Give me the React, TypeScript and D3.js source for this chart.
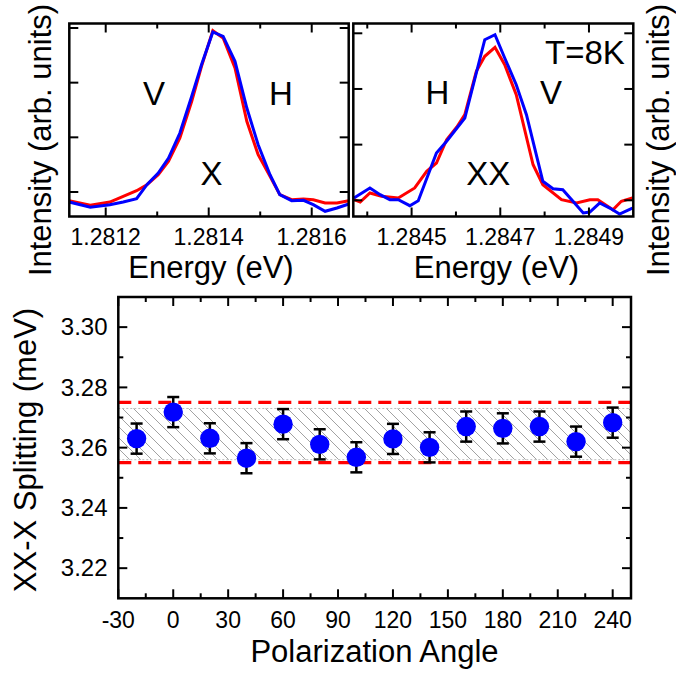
import React from 'react';
import * as d3 from 'd3';

// ---------- DATA ----------
// Top-left panel: X (exciton) spectra, red = V, blue = H
const leftEnergy = [1.281129, 1.28117, 1.281208, 1.281234, 1.28126, 1.28128, 1.281302, 1.281322, 1.281344, 1.281367, 1.281386, 1.281408, 1.281428, 1.281451, 1.281474, 1.281496, 1.281519, 1.281538, 1.281561, 1.281584, 1.281603, 1.281626, 1.281649, 1.281672];
const leftRed = [-0.159, -0.243, -0.183, -0.079, 0.024, 0.134, 0.316, 0.562, 0.988, 1.659, 2.299, 2.95, 2.817, 2.268, 1.293, 0.682, 0.287, -0.049, -0.141, -0.128, -0.141, -0.201, -0.201, -0.159];
const leftBlue = [-0.183, -0.28, -0.232, -0.183, -0.123, 0.134, 0.348, 0.622, 1.079, 1.75, 2.328, 2.927, 2.848, 2.391, 1.536, 0.865, 0.316, -0.049, -0.159, -0.152, -0.232, -0.353, -0.293, -0.219];

// Top-right panel: XX (biexciton) spectra
const rightRedEnergy = [1.28437, 1.284384, 1.284406, 1.284432, 1.28447, 1.284507, 1.284534, 1.284556, 1.284579, 1.284602, 1.28462, 1.284646, 1.284665, 1.284688, 1.28471, 1.284736, 1.284774, 1.284796, 1.284838, 1.284872, 1.284902, 1.28492, 1.284954, 1.284973, 1.284998];
const rightRed = [0.011, -0.031, 0.131, 0.072, 0.041, 0.221, 0.521, 0.67, 1.089, 1.317, 1.538, 2.317, 2.587, 2.748, 2.436, 1.897, 0.639, 0.28, 0.011, -0.049, 0.011, 0.011, -0.169, -0.018, 0.041];
const rightBlueEnergy = [1.28437, 1.284406, 1.284429, 1.284451, 1.28447, 1.284496, 1.284515, 1.284556, 1.284579, 1.28462, 1.284665, 1.284688, 1.28471, 1.284736, 1.284759, 1.284796, 1.284819, 1.284841, 1.284864, 1.284887, 1.284902, 1.284924, 1.284947, 1.284969, 1.284998];
const rightBlue = [0.041, 0.221, 0.101, 0.011, 0.011, -0.097, -0.007, 0.85, 1.06, 1.478, 2.885, 2.975, 2.556, 2.077, 1.538, 0.341, 0.208, 0.19, -0.018, -0.228, -0.21, -0.049, -0.139, -0.246, -0.139];

// Bottom panel: XX-X splitting vs polarization angle
const angles = [-20, 0, 20, 40, 60, 80, 100, 120, 140, 160, 180, 200, 220, 240];
const splitting = [3.263, 3.2718, 3.2631, 3.2565, 3.2678, 3.2611, 3.2568, 3.2629, 3.2601, 3.267, 3.2664, 3.267, 3.262, 3.2683];
const splittingErr = [0.005, 0.005, 0.005, 0.005, 0.005, 0.005, 0.005, 0.005, 0.005, 0.005, 0.005, 0.005, 0.005, 0.005];
const bandRange = [3.256, 3.273];
const dashedLevels = [3.255, 3.275];

// Tick values
const leftEnergyMajor = [1.2812, 1.2814, 1.2816];
const leftEnergyMinor = [1.2813, 1.2815];
const rightEnergyMajor = [1.2845, 1.2847, 1.2849];
const rightEnergyMinor = [1.2844, 1.2846, 1.2848];
const intensityTicks = [0, 1, 2, 3];
const angleMajor = [-30, 0, 30, 60, 90, 120, 150, 180, 210, 240];
const angleMinor = [-15, 15, 45, 75, 105, 135, 165, 195, 225];
const splitMajor = [3.22, 3.24, 3.26, 3.28, 3.3];
const splitMinor = [3.23, 3.25, 3.27, 3.29];

const FONT = "'Liberation Sans', Arial, Helvetica, sans-serif";
const RED = '#ff0000';
const BLUE = '#0000ff';

type Scale = d3.ScaleLinear<number, number>;

function Box({ x, y, xMajor, xMinor, yMajor, yMinor }: { x: Scale; y: Scale; xMajor: number[]; xMinor: number[]; yMajor: number[]; yMinor: number[] }) {
  const [x0, x1] = x.range();
  const [y0, y1] = y.range(); // y0 bottom, y1 top
  const MJ = 9, MN = 5;
  const els: JSX.Element[] = [];
  xMajor.forEach((v, i) => {
    const px = x(v);
    els.push(<line key={'xb' + i} x1={px} x2={px} y1={y0} y2={y0 - MJ} />);
    els.push(<line key={'xt' + i} x1={px} x2={px} y1={y1} y2={y1 + MJ} />);
  });
  xMinor.forEach((v, i) => {
    const px = x(v);
    els.push(<line key={'xbm' + i} x1={px} x2={px} y1={y0} y2={y0 - MN} />);
    els.push(<line key={'xtm' + i} x1={px} x2={px} y1={y1} y2={y1 + MN} />);
  });
  yMajor.forEach((v, i) => {
    const py = y(v);
    els.push(<line key={'yl' + i} x1={x0} x2={x0 + MJ} y1={py} y2={py} />);
    els.push(<line key={'yr' + i} x1={x1} x2={x1 - MJ} y1={py} y2={py} />);
  });
  yMinor.forEach((v, i) => {
    const py = y(v);
    els.push(<line key={'ylm' + i} x1={x0} x2={x0 + MN} y1={py} y2={py} />);
    els.push(<line key={'yrm' + i} x1={x1} x2={x1 - MN} y1={py} y2={py} />);
  });
  return (
    <g stroke="#000" strokeWidth={2}>
      {els}
      <rect x={x0} y={y1} width={x1 - x0} height={y0 - y1} fill="none" strokeWidth={2.5} />
    </g>
  );
}

export default function App() {
  // Top panels
  const topY0 = 216.5, topY1 = 23.5;
  const xL = d3.scaleLinear().domain([1.2811293, 1.2816718]).range([69.3, 348.7]);
  const yL = d3.scaleLinear().domain([-0.448, 3.082]).range([topY0, topY1]);
  const xR = d3.scaleLinear().domain([1.2843685, 1.285]).range([353.3, 633.3]);
  const yR = d3.scaleLinear().domain([-0.291, 3.176]).range([topY0, topY1]);

  const lineL = d3.line<[number, number]>().x(d => xL(d[0])).y(d => yL(d[1]));
  const lineR = d3.line<[number, number]>().x(d => xR(d[0])).y(d => yR(d[1]));

  const lRed = lineL(leftEnergy.map((e, i) => [e, leftRed[i]]))!;
  const lBlue = lineL(leftEnergy.map((e, i) => [e, leftBlue[i]]))!;
  const rRed = lineR(rightRedEnergy.map((e, i) => [e, rightRed[i]]))!;
  const rBlue = lineR(rightBlueEnergy.map((e, i) => [e, rightBlue[i]]))!;

  // Bottom panel
  const xB = d3.scaleLinear().domain([-30, 250]).range([118.3, 631]);
  const yB = d3.scaleLinear().domain([3.21, 3.31]).range([598.3, 297]);
  const [bx0, bx1] = xB.range();

  const tickFont = 23;
  const titleFont = 31;
  const annFont = 33;

  return (
    <svg width={676} height={677} style={{ position: 'absolute', left: 0, top: 0, background: '#fff' }} fontFamily={FONT}>
      <defs>
        <pattern id="hatch" patternUnits="userSpaceOnUse" width={11} height={11}>
          <path d="M-1,-1 L12,12 M-12,-1 L1,12 M10,-1 L23,12" stroke="#8a8a8a" strokeWidth={0.8} />
        </pattern>
      </defs>
      <rect x={0} y={0} width={676} height={677} fill="#fff" />

      {/* ---------- Top-left panel ---------- */}
      <path d={lRed} fill="none" stroke={RED} strokeWidth={3} />
      <path d={lBlue} fill="none" stroke={BLUE} strokeWidth={3} />
      <Box x={xL} y={yL} xMajor={leftEnergyMajor} xMinor={leftEnergyMinor} yMajor={intensityTicks} yMinor={[]} />
      {leftEnergyMajor.map((v, i) => (
        <text key={'lt' + i} x={xL(v)} y={244.5} fontSize={tickFont} textAnchor="middle">{v.toFixed(4)}</text>
      ))}
      <text x={211} y={278} fontSize={titleFont} textAnchor="middle">Energy (eV)</text>
      <text transform="translate(51,140) rotate(-90)" fontSize={titleFont} textAnchor="middle">Intensity (arb. units)</text>
      <text x={154} y={105} fontSize={annFont} textAnchor="middle">V</text>
      <text x={281} y={105} fontSize={annFont} textAnchor="middle">H</text>
      <text x={211.5} y={185} fontSize={annFont} textAnchor="middle">X</text>

      {/* ---------- Top-right panel ---------- */}
      <path d={rRed} fill="none" stroke={RED} strokeWidth={3} />
      <path d={rBlue} fill="none" stroke={BLUE} strokeWidth={3} />
      <Box x={xR} y={yR} xMajor={rightEnergyMajor} xMinor={rightEnergyMinor} yMajor={intensityTicks} yMinor={[]} />
      {rightEnergyMajor.map((v, i) => (
        <text key={'rt' + i} x={xR(v)} y={244.5} fontSize={tickFont} textAnchor="middle">{v.toFixed(4)}</text>
      ))}
      <text x={496.5} y={278} fontSize={titleFont} textAnchor="middle">Energy (eV)</text>
      <text transform="translate(669,140) rotate(-90)" fontSize={titleFont} textAnchor="middle">Intensity (arb. units)</text>
      <text x={437.5} y={104} fontSize={annFont} textAnchor="middle">H</text>
      <text x={551} y={104} fontSize={annFont} textAnchor="middle">V</text>
      <text x={488.3} y={185} fontSize={annFont} textAnchor="middle">XX</text>
      <text x={545} y={64} fontSize={annFont} textAnchor="start">T=8K</text>

      {/* ---------- Bottom panel ---------- */}
      <rect x={bx0} y={yB(bandRange[1])} width={bx1 - bx0} height={yB(bandRange[0]) - yB(bandRange[1])} fill="url(#hatch)" />
      {bandRange.map((v, i) => (
        <line key={'bb' + i} x1={bx0} x2={bx1} y1={yB(v)} y2={yB(v)} stroke="#bbbbbb" strokeWidth={1} strokeDasharray="2,2" />
      ))}
      {dashedLevels.map((v, i) => (
        <line key={'dl' + i} x1={bx0} x2={bx1} y1={yB(v)} y2={yB(v)} stroke={RED} strokeWidth={3.3} strokeDasharray="13,7" />
      ))}
      <g stroke="#000" strokeWidth={2.5}>
        {angles.map((a, i) => {
          const px = xB(a);
          const yt = yB(splitting[i] + splittingErr[i]);
          const yb = yB(splitting[i] - splittingErr[i]);
          return (
            <g key={'eb' + i}>
              <line x1={px} x2={px} y1={yt} y2={yb} />
              <line x1={px - 6} x2={px + 6} y1={yt} y2={yt} />
              <line x1={px - 6} x2={px + 6} y1={yb} y2={yb} />
            </g>
          );
        })}
      </g>
      {angles.map((a, i) => (
        <circle key={'pt' + i} cx={xB(a)} cy={yB(splitting[i])} r={9.7} fill={BLUE} />
      ))}
      <Box x={xB} y={yB} xMajor={angleMajor} xMinor={angleMinor} yMajor={splitMajor} yMinor={splitMinor} />
      {angleMajor.map((v, i) => (
        <text key={'bx' + i} x={xB(v)} y={628} fontSize={tickFont} textAnchor="middle">{v}</text>
      ))}
      {splitMajor.map((v, i) => (
        <text key={'by' + i} x={107.5} y={yB(v) + 8.3} fontSize={24} textAnchor="end">{v.toFixed(2)}</text>
      ))}
      <text x={374.5} y={662} fontSize={titleFont} textAnchor="middle">Polarization Angle</text>
      <text transform="translate(36,450) rotate(-90)" fontSize={titleFont} textAnchor="middle">XX-X Splitting (meV)</text>
    </svg>
  );
}
